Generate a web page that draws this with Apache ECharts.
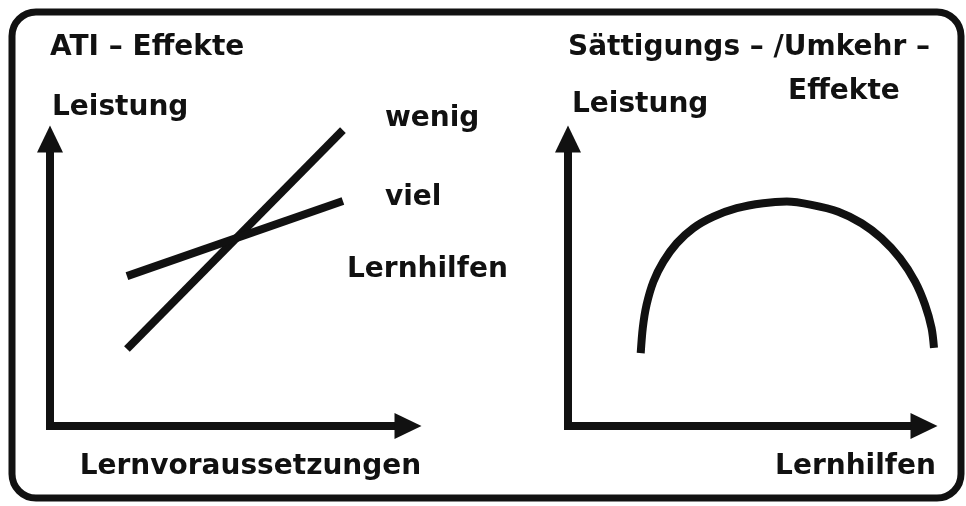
<!DOCTYPE html>
<html>
<head>
<meta charset="utf-8">
<script src="https://cdn.jsdelivr.net/npm/echarts@6/dist/echarts.min.js"></script>
<style>
  html, body { margin: 0; background: #fff; }
  #chart { width: 966px; height: 506px; }
</style>
</head>
<body>
<div id="chart"></div>
<script>
// ATI-Effekte: Leistung über Lernvoraussetzungen, je nach Menge der Lernhilfen
const lineNames = ['wenig', 'viel']
const wenigLine = [[2.23, 2.81], [8.49, 10.8]]
const vielLine = [[2.23, 5.47], [8.49, 8.21]]

const umkehrX = [2.12, 2.18, 2.29, 2.49, 2.78, 3.17, 3.65, 4.24, 4.92, 5.69, 6.38,
                 7.10, 7.88, 8.56, 9.14, 9.68, 10.12, 10.41, 10.60, 10.67]
const umkehrY = [2.66, 3.58, 4.42, 5.27, 6.00, 6.67, 7.22, 7.64, 7.95, 8.13, 8.19,
                 8.07, 7.82, 7.40, 6.85, 6.12, 5.27, 4.42, 3.57, 2.85]

const ink = '#111'
const font = 'DejaVu Sans'
const chart = echarts.init(document.getElementById('chart'))

function textStyle() {
  return { color: ink, fontFamily: font, fontWeight: 'bold', fontSize: 28 }
}

function axisLine() {
  return {
    show: true,
    symbol: ['none', 'triangle'],
    symbolSize: [26, 27],
    symbolOffset: [0, 13],
    lineStyle: { color: ink, width: 8, cap: 'square' }
  }
}

function valueAxis(extra) {
  return Object.assign({
    type: 'value',
    min: 0,
    max: 10,
    axisLine: axisLine(),
    axisTick: { show: false },
    axisLabel: { show: false },
    splitLine: { show: false }
  }, extra)
}

// letzter Punkt bekommt die Beschriftung rechts daneben
function withEndLabel(points, text, offsetY) {
  const last = points[points.length - 1]
  return points.slice(0, -1).concat([{
    value: last,
    label: {
      show: true,
      formatter: text,
      position: 'right',
      distance: 42,
      offset: [0, offsetY],
      ...textStyle()
    }
  }])
}

function lineSeries(grid, data) {
  return {
    type: 'line',
    xAxisIndex: grid,
    yAxisIndex: grid,
    data: data,
    showSymbol: true,
    symbol: 'circle',
    symbolSize: 0,
    clip: false,
    silent: true,
    lineStyle: { color: ink, width: 8, cap: 'butt' },
    itemStyle: { color: ink },
    emphasis: { disabled: true }
  }
}

// die Kurve reicht rechts unter die Pfeilspitze, daher ein unsichtbares,
// gleich skaliertes Raster, das etwas breiter ist (0..11 statt 0..10)
const arcSeries = lineSeries(2, umkehrX.map((x, i) => [x, umkehrY[i]]))
arcSeries.showSymbol = false
arcSeries.smooth = 0.3

const option = {
  backgroundColor: '#fff',
  animation: false,
  title: [
    { text: 'ATI – Effekte', left: 50, top: 34, padding: 0, textStyle: textStyle() },
    { text: 'Sättigungs – /Umkehr –', left: 568, top: 34, padding: 0, textStyle: textStyle() },
    { text: 'Effekte', left: 788, top: 78, padding: 0, textStyle: textStyle() },
    { text: 'Lernhilfen', left: 347, top: 256, padding: 0, textStyle: textStyle() }
  ],
  graphic: [{
    type: 'rect',
    silent: true,
    shape: { x: 12, y: 12, width: 949, height: 486, r: 24 },
    style: { fill: 'none', stroke: ink, lineWidth: 7 }
  }],
  grid: [
    { left: 50, top: 152, width: 345, height: 274, outerBoundsMode: 'none' },
    { left: 568, top: 152, width: 343, height: 274, outerBoundsMode: 'none' },
    { left: 568, top: 152, width: 377.3, height: 274, outerBoundsMode: 'none' }
  ],
  xAxis: [
    valueAxis({
      gridIndex: 0,
      name: 'Lernvoraussetzungen',
      nameLocation: 'middle',
      nameGap: 27,
      nameTextStyle: { ...textStyle(), align: 'center', verticalAlign: 'top', padding: [0, 0, 0, 56] }
    }),
    valueAxis({
      gridIndex: 1,
      name: 'Lernhilfen',
      nameLocation: 'middle',
      nameGap: 27,
      nameTextStyle: { ...textStyle(), align: 'center', verticalAlign: 'top', padding: [0, 0, 0, 232] }
    }),
    { type: 'value', gridIndex: 2, min: 0, max: 11, show: false }
  ],
  yAxis: [
    valueAxis({
      gridIndex: 0,
      name: 'Leistung',
      nameLocation: 'end',
      nameGap: 30,
      nameTextStyle: { ...textStyle(), align: 'left', verticalAlign: 'bottom', padding: [0, 0, 0, 2] }
    }),
    valueAxis({
      gridIndex: 1,
      name: 'Leistung',
      nameLocation: 'end',
      nameGap: 33,
      nameTextStyle: { ...textStyle(), align: 'left', verticalAlign: 'bottom', padding: [0, 0, 0, 4] }
    }),
    { type: 'value', gridIndex: 2, min: 0, max: 10, show: false }
  ],
  series: [
    lineSeries(0, withEndLabel(wenigLine, lineNames[0], -11)),
    lineSeries(0, withEndLabel(vielLine, lineNames[1], -3)),
    arcSeries
  ]
}

chart.setOption(option)
</script>
</body>
</html>
